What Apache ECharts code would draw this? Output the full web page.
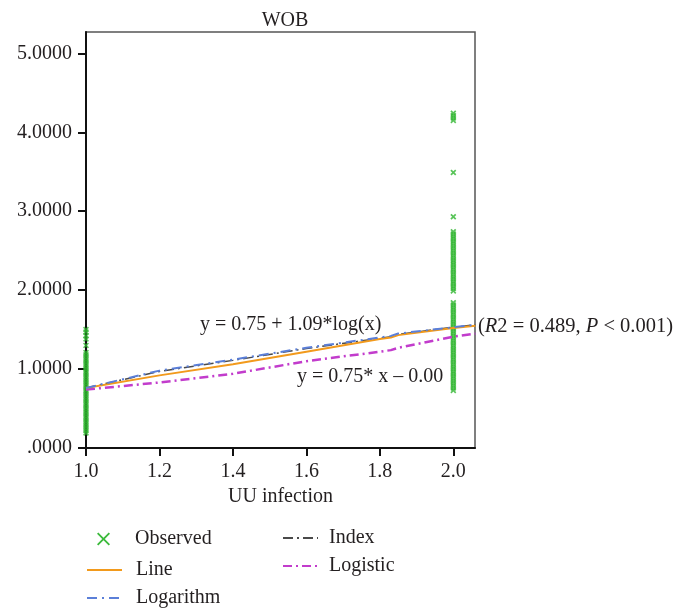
<!DOCTYPE html>
<html>
<head>
<meta charset="utf-8">
<script src="https://cdn.jsdelivr.net/npm/echarts@6/dist/echarts.min.js"></script>
<style>html,body{margin:0;padding:0;background:#fff}#c{width:677px;height:612px}</style>
</head>
<body>
<div id="c"></div>
<script>
// ---- data ----
const xTicks = [1.0, 1.2, 1.4, 1.6, 1.8, 2.0];
const yTicks = [0, 1, 2, 3, 4, 5];
// observed WOB values, UU infection = 1
const obsGroup1 = [0.19, 0.22, 0.25, 0.28, 0.31, 0.34, 0.37, 0.40, 0.43, 0.46, 0.49, 0.52, 0.55, 0.58, 0.61,
  0.64, 0.67, 0.70, 0.73, 0.76, 0.79, 0.82, 0.85, 0.88, 0.91, 0.94, 0.97, 1.00, 1.03, 1.06, 1.09, 1.12,
  1.15, 1.18, 1.21, 1.30, 1.38, 1.42, 1.47, 1.50];
// observed WOB values, UU infection = 2
const obsGroup2 = [4.24, 4.21, 4.18, 4.15, 3.49, 2.93, 2.74, 2.71, 2.68, 2.65, 2.62, 2.59, 2.56, 2.53, 2.50,
  2.47, 2.44, 2.41, 2.38, 2.35, 2.32, 2.29, 2.26, 2.23, 2.20, 2.17, 2.14, 2.11, 2.08, 2.05, 2.02, 1.99,
  1.84, 1.81, 1.78, 1.75, 1.72, 1.69, 1.66, 1.63, 1.60, 1.57, 1.54, 1.51, 1.48, 1.45, 1.42, 1.39, 1.36,
  1.33, 1.30, 1.27, 1.24, 1.21, 1.18, 1.15, 1.12, 1.09, 1.06, 1.03, 1.00, 0.97, 0.94, 0.91, 0.88, 0.85,
  0.82, 0.79, 0.76, 0.73];
// fitted curves
const fitX = [1.0, 1.2, 1.4, 1.6, 1.8, 1.83, 1.85, 2.0, 2.06];
const fitLine = [0.76, 0.92, 1.06, 1.22, 1.38, 1.40, 1.43, 1.52, 1.55];
const fitLogarithm = [0.76, 0.98, 1.12, 1.27, 1.40, 1.42, 1.45, 1.53, 1.56];
const fitIndex = [0.76, 0.97, 1.11, 1.26, 1.39, 1.41, 1.44, 1.53, 1.56];
const fitLogistic = [0.74, 0.83, 0.94, 1.10, 1.22, 1.24, 1.27, 1.41, 1.45];

const FONT = '"Liberation Serif", "DejaVu Serif", serif';
const TXT = '#231f20';

const observedData = obsGroup1.map(v => [1.0, v]).concat(obsGroup2.map(v => [2.0, v]));
const pair = arr => fitX.map((x, i) => [x, arr[i]]);

const XSYM = 'path://M0,2L2,0L5,3L8,0L10,2L7,5L10,8L8,10L5,7L2,10L0,8L3,5Z';
const XSYM_THIN = 'path://M0,1L1,0L5,4L9,0L10,1L6,5L10,9L9,10L5,6L1,10L0,9L4,5Z';

const legendText = pad => ({ fontFamily: FONT, fontSize: 20, color: TXT, lineHeight: 20, padding: [0, 0, 0, pad] });

const chart = echarts.init(document.getElementById('c'));
chart.setOption({
  animation: false,
  backgroundColor: '#fff',
  title: {
    text: 'WOB', left: 280, top: 6, textAlign: 'center',
    textStyle: { fontFamily: FONT, fontSize: 20, fontWeight: 'normal', color: TXT }
  },
  grid: {
    left: 86, top: 32, right: 202, bottom: 164,
    show: true, borderColor: '#555', borderWidth: 1.5, backgroundColor: 'transparent'
  },
  xAxis: {
    type: 'value', min: 1.0, max: 2.059,
    name: 'UU infection', nameLocation: 'middle', nameGap: 35,
    nameTextStyle: { fontFamily: FONT, fontSize: 20, color: TXT },
    axisLine: { show: true, lineStyle: { color: '#111', width: 2 } },
    axisTick: { show: true, length: 8, lineStyle: { color: '#111', width: 2 }, customValues: xTicks },
    axisLabel: { fontFamily: FONT, fontSize: 20, color: TXT, margin: 14, customValues: xTicks,
      formatter: v => v.toFixed(1) },
    splitLine: { show: false }
  },
  yAxis: {
    type: 'value', min: 0, max: 5.27,
    axisLine: { show: true, lineStyle: { color: '#111', width: 2 } },
    axisTick: { show: true, length: 8, lineStyle: { color: '#111', width: 2 }, customValues: yTicks },
    axisLabel: { fontFamily: FONT, fontSize: 20, color: TXT, margin: 14, customValues: yTicks,
      formatter: v => v === 0 ? '.0000' : v.toFixed(4) },
    splitLine: { show: false }
  },
  legend: [
    {
      data: [{ name: 'Observed', icon: XSYM_THIN, itemStyle: { color: '#3cba3c', opacity: 1 } }],
      orient: 'vertical', left: 97, top: 529, padding: 0, itemWidth: 13, itemHeight: 13,
      textStyle: legendText(20)
    },
    {
      data: ['Line', 'Logarithm'],
      orient: 'vertical', left: 86, top: 560, padding: 0, itemWidth: 35, itemHeight: 14, itemGap: 8,
      itemStyle: { opacity: 0 },
      textStyle: legendText(9)
    },
    {
      data: ['Index', 'Logistic'],
      orient: 'vertical', left: 282, top: 528, padding: 0, itemWidth: 35, itemHeight: 14, itemGap: 8,
      itemStyle: { opacity: 0 },
      textStyle: legendText(6)
    }
  ],
  series: [
    {
      name: 'Observed', type: 'scatter', data: observedData,
      symbol: XSYM, symbolSize: 6, itemStyle: { color: '#30b530' }, z: 2
    },
    {
      name: 'Index', type: 'line', data: pair(fitIndex), symbol: 'none', showSymbol: false,
      lineStyle: { color: '#4a4a4a', width: 1.5, type: [10, 4, 2, 4] }, itemStyle: { color: '#4a4a4a' }, z: 3
    },
    {
      name: 'Logistic', type: 'line', data: pair(fitLogistic), symbol: 'none', showSymbol: false,
      lineStyle: { color: '#c23ccc', width: 2.5, type: [9, 4, 2, 4] }, itemStyle: { color: '#c23ccc' }, z: 3
    },
    {
      name: 'Line', type: 'line', data: pair(fitLine), symbol: 'none', showSymbol: false,
      lineStyle: { color: '#f29a1c', width: 2 }, itemStyle: { color: '#f29a1c' }, z: 4
    },
    {
      name: 'Logarithm', type: 'line', data: pair(fitLogarithm), symbol: 'none', showSymbol: false,
      lineStyle: { color: '#5b7fd8', width: 2, type: [10, 5, 2, 5] }, itemStyle: { color: '#5b7fd8' }, z: 5
    }
  ],
  graphic: [
    { type: 'text', left: 200, top: 315, z: 10,
      style: { text: 'y = 0.75 + 1.09*log(x)', font: '20px ' + FONT, fill: TXT } },
    { type: 'text', left: 297, top: 367, z: 10,
      style: { text: 'y = 0.75* x \u2013 0.00', font: '20px ' + FONT, fill: TXT } },
    { type: 'text', left: 478, top: 316, z: 10,
      style: {
        text: '(' + '{i|R}' + '2 = 0.489, ' + '{i|P}' + ' < 0.001)',
        font: '20.5px ' + FONT, fill: TXT,
        rich: { i: { fontFamily: FONT, fontSize: 20.5, fontStyle: 'italic', fill: TXT, color: TXT } }
      } }
  ]
});
</script>
</body>
</html>
